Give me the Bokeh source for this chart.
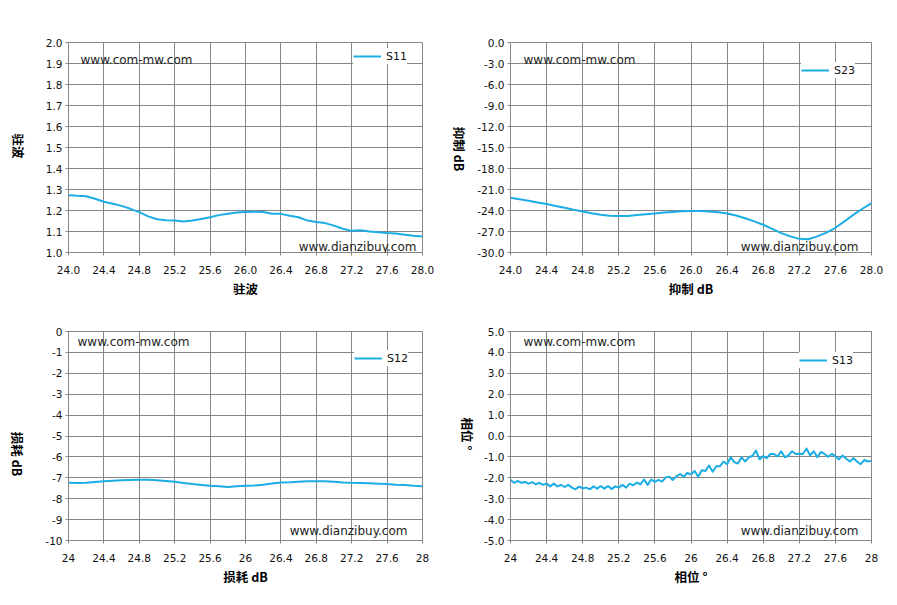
import math
from bokeh.plotting import figure
from bokeh.layouts import column, row
from bokeh.models import Range1d, FixedTicker, PrintfTickFormatter, Label, Div
from bokeh.embed import file_html
from bokeh.resources import INLINE

# ---------------- data ----------------
freq_a = [round(24.0 + 0.1 * i, 2) for i in range(41)]
freq_b = [round(24.0 + 0.04 * i, 2) for i in range(101)]

s11 = [1.273, 1.270, 1.268, 1.256, 1.242, 1.232, 1.222, 1.208, 1.192, 1.172,
       1.158, 1.154, 1.152, 1.148, 1.152, 1.160, 1.168, 1.178, 1.185, 1.190,
       1.193, 1.194, 1.193, 1.185, 1.184, 1.175, 1.168, 1.152, 1.145, 1.140,
       1.128, 1.113, 1.103, 1.106, 1.100, 1.097, 1.093, 1.090, 1.085, 1.080,
       1.076]

s23 = [-22.17, -22.38, -22.60, -22.85, -23.08, -23.35, -23.60, -23.88, -24.13, -24.38,
       -24.60, -24.75, -24.80, -24.78, -24.65, -24.52, -24.42, -24.30, -24.20, -24.12,
       -24.08, -24.08, -24.13, -24.25, -24.42, -24.72, -25.10, -25.55, -26.04, -26.62,
       -27.23, -27.70, -28.05, -28.10, -27.70, -27.15, -26.47, -25.55, -24.60, -23.75,
       -22.94]

s12 = [-7.24, -7.25, -7.24, -7.20, -7.17, -7.14, -7.12, -7.10, -7.09, -7.09,
       -7.12, -7.15, -7.19, -7.25, -7.30, -7.34, -7.38, -7.40, -7.44, -7.41,
       -7.38, -7.37, -7.33, -7.27, -7.22, -7.21, -7.19, -7.17, -7.16, -7.17,
       -7.19, -7.22, -7.24, -7.25, -7.26, -7.28, -7.30, -7.33, -7.35, -7.38,
       -7.40]

s13 = [-2.11, -2.24, -2.15, -2.24, -2.20, -2.28, -2.21, -2.31, -2.24, -2.34,
       -2.28, -2.41, -2.28, -2.41, -2.34, -2.44, -2.34, -2.47, -2.55, -2.42,
       -2.50, -2.47, -2.55, -2.41, -2.52, -2.39, -2.52, -2.39, -2.54, -2.41,
       -2.47, -2.34, -2.47, -2.28, -2.36, -2.23, -2.31, -2.08, -2.34, -2.08,
       -2.20, -2.10, -2.18, -1.98, -1.95, -2.10, -1.92, -1.82, -1.95, -1.76,
       -1.84, -1.67, -1.95, -1.64, -1.67, -1.41, -1.71, -1.45, -1.45, -1.22,
       -1.35, -1.02, -1.25, -1.32, -1.02, -1.22, -1.02, -0.96, -0.70, -1.12,
       -0.96, -1.06, -0.86, -0.86, -0.98, -0.73, -1.02, -0.93, -0.73, -0.86,
       -0.85, -0.86, -0.60, -0.93, -0.73, -1.02, -0.76, -0.86, -0.99, -0.86,
       -0.96, -1.12, -0.93, -1.09, -1.22, -1.06, -1.22, -1.35, -1.15, -1.22,
       -1.19]

x_ticks = [24.0, 24.4, 24.8, 25.2, 25.6, 26.0, 26.4, 26.8, 27.2, 27.6, 28.0]
y_ticks_s11 = [1.0, 1.1, 1.2, 1.3, 1.4, 1.5, 1.6, 1.7, 1.8, 1.9, 2.0]
y_ticks_s23 = [0.0, -3.0, -6.0, -9.0, -12.0, -15.0, -18.0, -21.0, -24.0, -27.0, -30.0]
y_ticks_s12 = [0, -1, -2, -3, -4, -5, -6, -7, -8, -9, -10]
y_ticks_s13 = [5.0, 4.0, 3.0, 2.0, 1.0, 0.0, -1.0, -2.0, -3.0, -4.0, -5.0]

x_titles = ["驻波", "抑制 dB", "损耗 dB", "相位 °"]
y_titles = ["驻波", "抑制 dB", "损耗 dB", "相位 °"]
series_names = ["S11", "S23", "S12", "S13"]
watermark_top = "www.com-mw.com"
watermark_bottom = "www.dianzibuy.com"

GRID = "#868686"
LINE = "#1CADE4"


def ytitle_div(text, w, h, cx, cy):
    # y-axis title rotated clockwise (reads top to bottom), as in the reference
    html = ('<div style="position:relative;width:%dpx;height:%dpx;">'
            '<span style="position:absolute;left:%.1fpx;top:%.1fpx;'
            'transform:translate(-50%%,-50%%) rotate(90deg);white-space:nowrap;'
            "font-family:'Noto Sans CJK SC';font-weight:bold;font-size:12.5px;"
            'color:#000000;line-height:1;">%s</span></div>') % (w, h, cx, cy, text)
    return Div(text=html, width=w, height=h, margin=0)


def panel(xs, ys, name, xtitle, yticks, xfmt, yfmt,
          width, height, left, top, fw, fh, leg_pos, wm_top, wm_bot):
    ylo, yhi = min(yticks), max(yticks)
    p = figure(width=width, height=height,
               x_range=Range1d(x_ticks[0], x_ticks[-1]),
               y_range=Range1d(ylo, yhi),
               output_backend="svg", toolbar_location=None, title=None,
               min_border_left=left, min_border_right=width - left - fw,
               min_border_top=top, min_border_bottom=height - top - fh)
    p.background_fill_color = "white"
    p.border_fill_color = "white"
    p.outline_line_color = GRID
    p.outline_line_width = 1

    p.xaxis.ticker = FixedTicker(ticks=x_ticks)
    p.yaxis.ticker = FixedTicker(ticks=yticks)
    p.xaxis.formatter = PrintfTickFormatter(format=xfmt)
    p.yaxis.formatter = PrintfTickFormatter(format=yfmt)
    for ax in (p.xaxis[0], p.yaxis[0]):
        ax.axis_line_color = GRID
        ax.major_tick_line_color = GRID
        ax.major_tick_out = 3
        ax.major_tick_in = 0
        ax.minor_tick_line_color = None
        ax.major_label_text_font = "DejaVu Sans"
        ax.major_label_text_font_size = "10.5px"
        ax.major_label_text_color = "#111111"
        ax.axis_label_text_font = "Noto Sans CJK SC"
        ax.axis_label_text_font_style = "bold"
        ax.axis_label_text_font_size = "12.5px"
        ax.axis_label_text_color = "#000000"
    p.xaxis.axis_label = xtitle
    p.xaxis.major_label_standoff = 10
    p.xaxis.axis_label_standoff = 2
    p.yaxis.major_label_standoff = 3

    p.xgrid.grid_line_color = GRID
    p.ygrid.grid_line_color = GRID
    p.xgrid.grid_line_width = 1
    p.ygrid.grid_line_width = 1

    p.line(xs, ys, line_color=LINE, line_width=2, line_join="round",
           legend_label=name)

    lg = p.legend[0]
    lg.location = leg_pos
    lg.margin = 0
    lg.padding = 6
    lg.border_line_color = None
    lg.background_fill_color = "white"
    lg.background_fill_alpha = 1
    lg.glyph_width = 28
    lg.glyph_height = 16
    lg.label_height = 16
    lg.label_standoff = 5
    lg.label_text_font = "DejaVu Sans"
    lg.label_text_font_size = "11px"
    lg.label_text_color = "#111111"

    xr = x_ticks[-1] - x_ticks[0]
    yr = yhi - ylo
    p.add_layout(Label(x=x_ticks[0] + wm_top[0] / fw * xr,
                       y=yhi - wm_top[1] / fh * yr,
                       text=watermark_top, text_font="DejaVu Sans",
                       text_font_size="12px", text_color="#222222",
                       text_baseline="middle", text_align="left"))
    p.add_layout(Label(x=x_ticks[-1] - wm_bot[0] / fw * xr,
                       y=ylo + wm_bot[1] / fh * yr,
                       text=watermark_bottom, text_font="DejaVu Sans",
                       text_font_size="12px", text_color="#222222",
                       text_baseline="middle", text_align="right"))
    return p


p1 = panel(freq_a, s11, series_names[0], x_titles[0], y_ticks_s11,
           "%.1f", "%.1f", 412, 305, 32, 42, 354, 210,
           (285, 188), (12, 17), (6, 6))
p2 = panel(freq_a, s23, series_names[1], x_titles[1], y_ticks_s23,
           "%.1f", "%.1f", 420, 305, 36, 42, 361, 210,
           (291, 174), (13, 17), (13, 6))
p3 = panel(freq_a, s12, series_names[2], x_titles[2], y_ticks_s12,
           "%g", "%g", 412, 296, 32, 26, 354, 209,
           (286, 174), (9, 10), (15, 10))
p4 = panel(freq_b, s13, series_names[3], x_titles[3], y_ticks_s13,
           "%g", "%.1f", 420, 296, 36, 26, 361, 209,
           (289, 172), (13, 10), (13, 10))

d1 = ytitle_div(y_titles[0], 36, 305, 18, 146)
d2 = ytitle_div(y_titles[1], 26, 305, 11, 148.5)
d3 = ytitle_div(y_titles[2], 36, 296, 17, 149)
d4 = ytitle_div(y_titles[3], 26, 296, 18.5, 128.5)

layout = column(row(d1, p1, d2, p2), row(d3, p3, d4, p4))
open("out.html", "w").write(file_html(layout, INLINE))
